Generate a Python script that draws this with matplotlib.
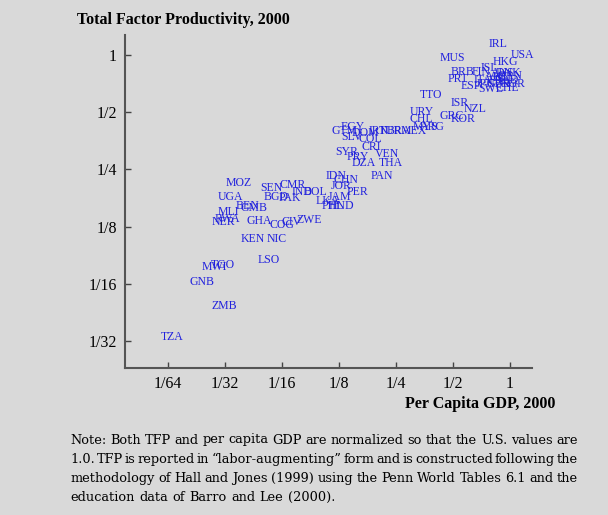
import numpy as np
import matplotlib.pyplot as plt

# country codes, per capita GDP (US = 1) and TFP (US = 1)
codes = ['IRL', 'USA', 'HKG', 'MUS', 'BRB', 'PRT', 'ESP', 'FIN', 'ISL', 'DNK',
         'AUT', 'BEL', 'ITA', 'FRA', 'NLD', 'CAN', 'GBR', 'JPN', 'SWE', 'NOR',
         'CHE', 'AUS', 'TTO', 'ISR', 'NZL', 'GRC', 'KOR', 'URY', 'CHL', 'ARG',
         'MEX', 'BRA', 'TUR', 'MYS', 'EGY', 'GTM', 'SLV', 'DOM', 'COL', 'CRI',
         'IRN', 'SYR', 'PRY', 'DZA', 'VEN', 'THA', 'PAN', 'IDN', 'CHN', 'JOR',
         'PER', 'JAM', 'LKA', 'PHL', 'HND', 'MOZ', 'UGA', 'SEN', 'CMR', 'BGD',
         'PAK', 'IND', 'BOL', 'BEN', 'GMB', 'MLI', 'RWA', 'NER', 'GHA', 'COG',
         'CIV', 'ZWE', 'KEN', 'NIC', 'LSO', 'TGO', 'MWI', 'GNB', 'ZMB', 'TZA']
gdp = [0.76, 1.00, 0.80, 0.42, 0.48, 0.46, 0.54, 0.62, 0.69, 0.83,
       0.73, 0.80, 0.63, 0.76, 0.82, 0.85, 0.74, 0.65, 0.67, 0.88,
       0.83, 0.78, 0.33, 0.48, 0.56, 0.42, 0.48, 0.29, 0.29, 0.33,
       0.26, 0.22, 0.20, 0.30, 0.125, 0.112, 0.127, 0.143, 0.156, 0.161,
       0.176, 0.117, 0.135, 0.143, 0.19, 0.20, 0.18, 0.105, 0.115, 0.112,
       0.135, 0.108, 0.093, 0.100, 0.108, 0.031, 0.028, 0.047, 0.060, 0.049,
       0.059, 0.069, 0.080, 0.035, 0.037, 0.028, 0.027, 0.026, 0.040, 0.053,
       0.061, 0.073, 0.037, 0.051, 0.046, 0.026, 0.023, 0.020, 0.026, 0.014]
tfp = [1.14, 1.00, 0.92, 0.97, 0.81, 0.75, 0.69, 0.81, 0.85, 0.80,
       0.77, 0.76, 0.74, 0.73, 0.74, 0.78, 0.70, 0.70, 0.66, 0.70,
       0.67, 0.80, 0.62, 0.56, 0.52, 0.48, 0.46, 0.50, 0.46, 0.42,
       0.40, 0.40, 0.40, 0.42, 0.42, 0.40, 0.37, 0.39, 0.36, 0.33,
       0.40, 0.31, 0.29, 0.27, 0.30, 0.27, 0.23, 0.23, 0.22, 0.205,
       0.19, 0.18, 0.17, 0.16, 0.16, 0.213, 0.179, 0.20, 0.207, 0.18,
       0.176, 0.19, 0.19, 0.16, 0.157, 0.15, 0.138, 0.133, 0.134, 0.128,
       0.133, 0.136, 0.108, 0.108, 0.084, 0.079, 0.077, 0.064, 0.048, 0.033]

ticks = [1/64, 1/32, 1/16, 1/8, 1/4, 1/2, 1]
tick_labels = ['1/64', '1/32', '1/16', '1/8', '1/4', '1/2', '1']
yticks = [1/32, 1/16, 1/8, 1/4, 1/2, 1]
ytick_labels = ['1/32', '1/16', '1/8', '1/4', '1/2', '1']

note = ['Note: Both TFP and per capita GDP are normalized so that the U.S. values are',
        '1.0. TFP is reported in \u201clabor-augmenting\u201d form and is constructed following the',
        'methodology of Hall and Jones (1999) using the Penn World Tables 6.1 and the',
        'education data of Barro and Lee (2000).']

bg = '#d9d9d9'
W, H = 608, 515
plt.rcParams['font.family'] = 'Liberation Serif'

fig = plt.figure(figsize=(W/100, H/100), dpi=100, facecolor=bg)
ax = fig.add_axes([0.2056, 0.2854, 0.669, 0.6466], facecolor=bg)

ax.set_xscale('log', base=2)
ax.set_yscale('log', base=2)
ax.set_xlim(2**-6.754, 2**0.386)
ax.set_ylim(2**-5.47, 2**0.35)

for c, x, y in zip(codes, gdp, tfp):
    ax.annotate(c, (x, y), xytext=(1, 0), textcoords='offset points',
                ha='left', va='center', fontsize=8.5, color='#2222dd')

ax.set_xticks(ticks)
ax.set_xticklabels(tick_labels)
ax.set_yticks(yticks)
ax.set_yticklabels(ytick_labels)
ax.minorticks_off()
ax.tick_params(direction='in', length=4, width=1, color='#444444',
               labelsize=11.5, pad=6)

for s in ['top', 'right']:
    ax.spines[s].set_visible(False)
for s in ['left', 'bottom']:
    ax.spines[s].set_color('#555555')
    ax.spines[s].set_linewidth(1.5)

fig.text(77/W, 1 - 20/H, 'Total Factor Productivity, 2000', fontsize=11.5,
         fontweight='bold', ha='left', va='center')
fig.text(555/W, 1 - 404/H, 'Per Capita GDP, 2000', fontsize=11.5,
         fontweight='bold', ha='right', va='center')

# justified note: place words one by one
x0, x1 = 70, 578
renderer = fig.canvas.get_renderer()
for i, line in enumerate(note):
    yy = 1 - (440 + 19.3*i)/H
    words = line.split(' ')
    txts = [fig.text(0, yy, w, fontsize=9.3, family='DejaVu Serif',
                     ha='left', va='center') for w in words]
    widths = [t.get_window_extent(renderer).width for t in txts]
    last = i == len(note) - 1
    gap = 4.5 if last else (x1 - x0 - sum(widths)) / (len(words) - 1)
    xp = x0
    for t, wd in zip(txts, widths):
        t.set_x(xp/W)
        xp += wd + gap

fig.savefig('out.png', dpi=100, facecolor=bg)
